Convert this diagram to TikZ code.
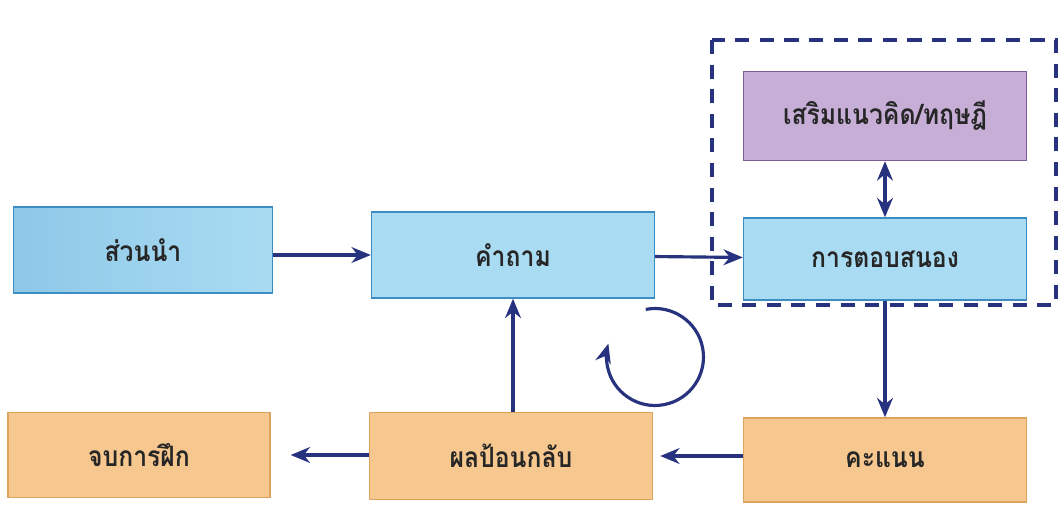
\documentclass[tikz,border=0pt]{standalone}
\usepackage{fontspec}
\newfontfamily\thaifont[Script=Thai,FakeStretch=0.88]{Loma}
\usepackage{xcolor}
\usetikzlibrary{arrows.meta}

\definecolor{skyfill}{HTML}{A9DCF3}
\definecolor{skyedge}{HTML}{3E8CC4}
\definecolor{lilacfill}{HTML}{C7AED6}
\definecolor{lilacedge}{HTML}{7E5C96}
\definecolor{sandfill}{HTML}{F6C78E}
\definecolor{sandedge}{HTML}{DDA25E}
\definecolor{navy}{HTML}{27337F}

\tikzset{
  box/.style={draw, line width=0.8pt, minimum width=5.66cm, minimum height=1.72cm,
    font=\thaifont\bfseries\fontsize{16}{18}\selectfont, text=black!85},
  bluebox/.style={box, fill=skyfill, draw=skyedge},
  lilacbox/.style={box, fill=lilacfill, draw=lilacedge},
  sandbox/.style={box, fill=sandfill, draw=sandedge},
  arr/.style={->, navy, line width=1.8pt},
}

\begin{document}
\begin{tikzpicture}[x=0.02cm, y=-0.02cm, >={Stealth[length=11pt,width=9pt]}]
		\useasboundingbox (0,0) rectangle (1059,517);
		
		% upper row
		\node[bluebox, minimum width=5.18cm, left color=skyfill!75!skyedge, right color=skyfill] (nam) at (143,250) {ส่วนนำ};
		\node[bluebox] (tham) at (513,255) {คำถาม};
		\node[bluebox, minimum height=1.64cm] (tob) at (885,259) {การตอบสนอง};
		\node[lilacbox, minimum height=1.78cm] (serm) at (885,116) {เสริมแนวคิด/ทฤษฎี};
		
		% lower row
		\node[sandbox, minimum width=5.24cm, minimum height=1.70cm] (jop) at (139,455) {จบการฝึก};
		\node[sandbox, minimum height=1.74cm] (phon) at (511,456) {ผลป้อนกลับ};
		\node[sandbox, minimum height=1.68cm] (khanaen) at (885,460) {คะแนน};
		
		\draw[navy, line width=2.8pt, dash pattern=on 8pt off 6pt] (712,40) rectangle (1056,305);
		
		\draw[arr] (nam.east |- tham) -- (tham.west);
		\draw[arr] (tham) -- (tob);
		\draw[<->, navy, line width=1.8pt] (serm) -- (tob);
		\draw[arr] (tob) -- (khanaen);
		\draw[arr, shorten >=4pt] (khanaen.west |- phon) -- (phon.east);
		\draw[arr, shorten >=0.4cm] (phon.west |- jop) -- (jop.east);
		\draw[arr] (phon.north -| tham) -- (tham.south);
		
		\coordinate (loop) at (655,357);
		\draw[arr] ([shift={(101:0.97cm)}]loop) arc[start angle=101, end angle=-196, radius=0.97cm];
		
\end{tikzpicture}
\end{document}
